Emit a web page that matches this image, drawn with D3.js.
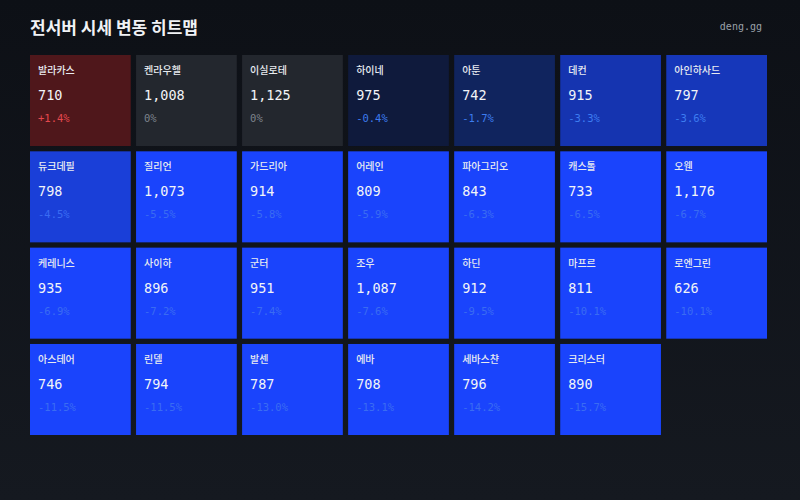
<!DOCTYPE html>
<html><head><meta charset="utf-8">
<script src="https://cdn.jsdelivr.net/npm/d3@7"></script>
<style>
body{margin:0;background:linear-gradient(#0d1016,#151920);}
svg{display:block}
</style></head>
<body><svg id="svg1" width="800" height="500"></svg>
<script>
var names = ['발라카스','켄라우헬','이실로테','하이네','아툰','데컨','아인하사드',
  '듀크데필','질리언','가드리아','어레인','파아그리오','캐스톨','오웬',
  '케레니스','사이하','군터','조우','하딘','마프르','로엔그린',
  '아스테어','린델','발센','에바','세바스챤','크리스터'];
var prices = [710,1008,1125,975,742,915,797,798,1073,914,809,843,733,1176,
  935,896,951,1087,912,811,626,746,794,787,708,796,890];
var changes = [1.4,0,0,-0.4,-1.7,-3.3,-3.6,-4.5,-5.5,-5.8,-5.9,-6.3,-6.5,-6.7,
  -6.9,-7.2,-7.4,-7.6,-9.5,-10.1,-10.1,-11.5,-11.5,-13.0,-13.1,-14.2,-15.7];

var svg = d3.select('#svg1');
var cols = 7, rows = 4;
var x = d3.scaleBand().domain(d3.range(cols)).range([30, 767]).paddingInner(0.05).paddingOuter(0);
var y = d3.scaleBand().domain(d3.range(rows)).range([55, 435]).paddingInner(0.055).paddingOuter(0);

var blue = d3.scaleLinear().domain([0, -0.4, -1.7, -3.3, -4.5, -5.5])
  .range(['#23272e', '#0f1a3c', '#10245e', '#1534b0', '#1a3fd8', '#1a44fc']).clamp(true);
function fill(c) { return c > 0 ? '#4f171b' : blue(c); }
function pctColor(c) { return c > 0 ? '#e5484d' : c === 0 ? '#7d838c' : (c > -4 ? '#3d7cf0' : '#3a6cf2'); }
var fmt = d3.format(',');

svg.append('text').attr('x', 30).attr('y', 34).attr('fill', '#f0f2f5')
  .attr('font-family', 'Noto Sans CJK KR').attr('font-size', 17).attr('font-weight', 700)
  .text('전서버 시세 변동 히트맵');
svg.append('text').attr('x', 762).attr('y', 30).attr('text-anchor', 'end').attr('fill', '#9aa0a8')
  .attr('font-family', 'DejaVu Sans Mono').attr('font-size', 10).text('deng.gg');

var cell = svg.selectAll('g.cell').data(names).enter().append('g')
  .attr('transform', function(d, i) { return 'translate(' + x(i % cols) + ',' + y(Math.floor(i / cols)) + ')'; });
cell.append('rect').attr('width', x.bandwidth()).attr('height', y.bandwidth())
  .attr('fill', function(d, i) { return fill(changes[i]); });
cell.append('text').attr('x', 8).attr('y', 19).attr('fill', '#e8ebf0')
  .attr('font-family', 'Noto Sans CJK KR').attr('font-size', 10).attr('font-weight', 500)
  .text(function(d) { return d; });
cell.append('text').attr('x', 8).attr('y', 45).attr('fill', '#f2f4f7')
  .attr('font-family', 'DejaVu Sans Mono').attr('font-size', 13.5)
  .text(function(d, i) { return fmt(prices[i]); });
cell.append('text').attr('x', 8).attr('y', 67)
  .attr('fill', function(d, i) { return pctColor(changes[i]); })
  .attr('font-family', 'DejaVu Sans Mono').attr('font-size', 10.5)
  .text(function(d, i) { var c = changes[i]; return c > 0 ? '+' + c.toFixed(1) + '%' : c === 0 ? '0%' : c.toFixed(1) + '%'; });
</script></body></html>
